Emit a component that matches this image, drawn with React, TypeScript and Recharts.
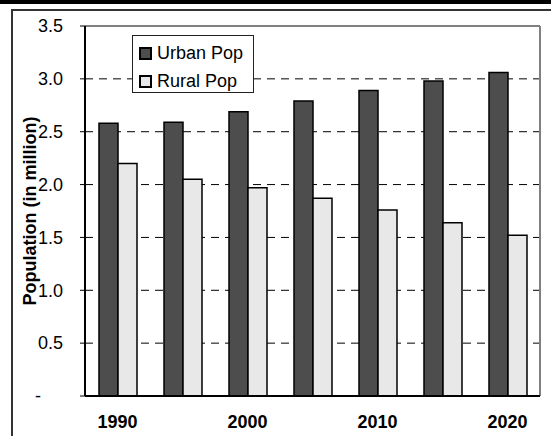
import { Bar, BarChart, CartesianGrid, Legend, ReferenceLine, XAxis, YAxis } from "recharts";

const years = ["1990", "1995", "2000", "2005", "2010", "2015", "2020"];
const urbanPop = [2.58, 2.59, 2.69, 2.79, 2.89, 2.98, 3.06];
const ruralPop = [2.2, 2.05, 1.97, 1.87, 1.76, 1.64, 1.52];
const yTicks = [0, 0.5, 1, 1.5, 2, 2.5, 3, 3.5];

const data = years.map((year, i) => ({ year, urban: urbanPop[i], rural: ruralPop[i] }));

const FONT = "'Liberation Sans', Arial, sans-serif";
const URBAN = "#4d4d4d";
const RURAL = "#e8e8e8";
const FRAME = "#808080";

function YTick({ x, y, payload }: any) {
  if (payload.value === 0) {
    return (
      <text x={x - 25} y={y} dy="0.35em" textAnchor="middle" fontSize={18} fontFamily={FONT} fill="#000">
        -
      </text>
    );
  }
  return (
    <text x={x} y={y} dy="0.35em" textAnchor="end" fontSize={18} fontFamily={FONT} fill="#000">
      {payload.value.toFixed(1)}
    </text>
  );
}

function XTick({ x, y, payload }: any) {
  return (
    <text x={x} y={y + 24} textAnchor="middle" fontSize={18} fontWeight="bold" fontFamily={FONT} fill="#000">
      {payload.value}
    </text>
  );
}

function LegendBox() {
  const items = [
    { label: "Urban Pop", color: URBAN },
    { label: "Rural Pop", color: RURAL },
  ];
  return (
    <div
      style={{
        border: "1px solid #222",
        background: "#fff",
        width: 122,
        height: 58,
        boxSizing: "border-box",
        fontFamily: FONT,
        fontSize: 18,
        paddingTop: 4,
        paddingLeft: 6,
      }}
    >
      {items.map((item) => (
        <div key={item.label} style={{ display: "flex", alignItems: "center", height: 26, marginBottom: 2 }}>
          <span
            style={{
              display: "inline-block",
              width: 9,
              height: 9,
              border: "2px solid #000",
              background: item.color,
              marginRight: 5,
            }}
          />
          <span style={{ color: "#000" }}>{item.label}</span>
        </div>
      ))}
    </div>
  );
}

export default function App() {
  return (
    <div style={{ position: "fixed", top: 0, left: 0, width: 551, height: 436, background: "#fff" }}>
      <div style={{ position: "absolute", top: 0, left: 0, width: 551, height: 4, background: "#000" }} />
      <div
        style={{
          position: "absolute",
          top: 9,
          left: 11,
          width: 540,
          height: 427,
          borderTop: "2px solid #333",
          borderLeft: "2px solid #333",
          boxSizing: "border-box",
        }}
      />
      <div style={{ position: "absolute", top: 0, left: 0 }}>
        <BarChart
          width={551}
          height={436}
          data={data}
          margin={{ top: 26, right: 11, bottom: 0, left: 0 }}
          barSize={19}
          barGap={0}
        >
          <CartesianGrid vertical={false} stroke="#000" strokeDasharray="8 6" />
          <XAxis
            dataKey="year"
            interval={1}
            height={40}
            tickLine={false}
            axisLine={{ stroke: "#000", strokeWidth: 2 }}
            tick={<XTick />}
          />
          <YAxis
            width={85}
            domain={[0, 3.5]}
            ticks={yTicks}
            tickSize={5}
            tickMargin={17}
            tickLine={{ stroke: "#000", strokeWidth: 1 }}
            axisLine={{ stroke: "#000", strokeWidth: 2 }}
            tick={<YTick />}
          />
          <ReferenceLine y={3.5} stroke={FRAME} strokeWidth={2} />
          <ReferenceLine x="2020" position="end" stroke={FRAME} strokeWidth={2} />
          <Legend
            layout="horizontal"
            verticalAlign="middle"
            content={<LegendBox />}
            wrapperStyle={{ position: "absolute", top: 35, left: 132, width: 124, height: 60 }}
          />
          <Bar dataKey="urban" name="Urban Pop" fill={URBAN} stroke="#000" strokeWidth={1.5} isAnimationActive={false} />
          <Bar dataKey="rural" name="Rural Pop" fill={RURAL} stroke="#000" strokeWidth={1.5} isAnimationActive={false} />
        </BarChart>
      </div>
      <div
        style={{
          position: "absolute",
          left: 30,
          top: 211,
          transform: "translate(-50%, -50%) rotate(-90deg)",
          whiteSpace: "nowrap",
          fontFamily: FONT,
          fontSize: 18,
          fontWeight: "bold",
          color: "#000",
        }}
      >
        Population (in million)
      </div>
    </div>
  );
}
